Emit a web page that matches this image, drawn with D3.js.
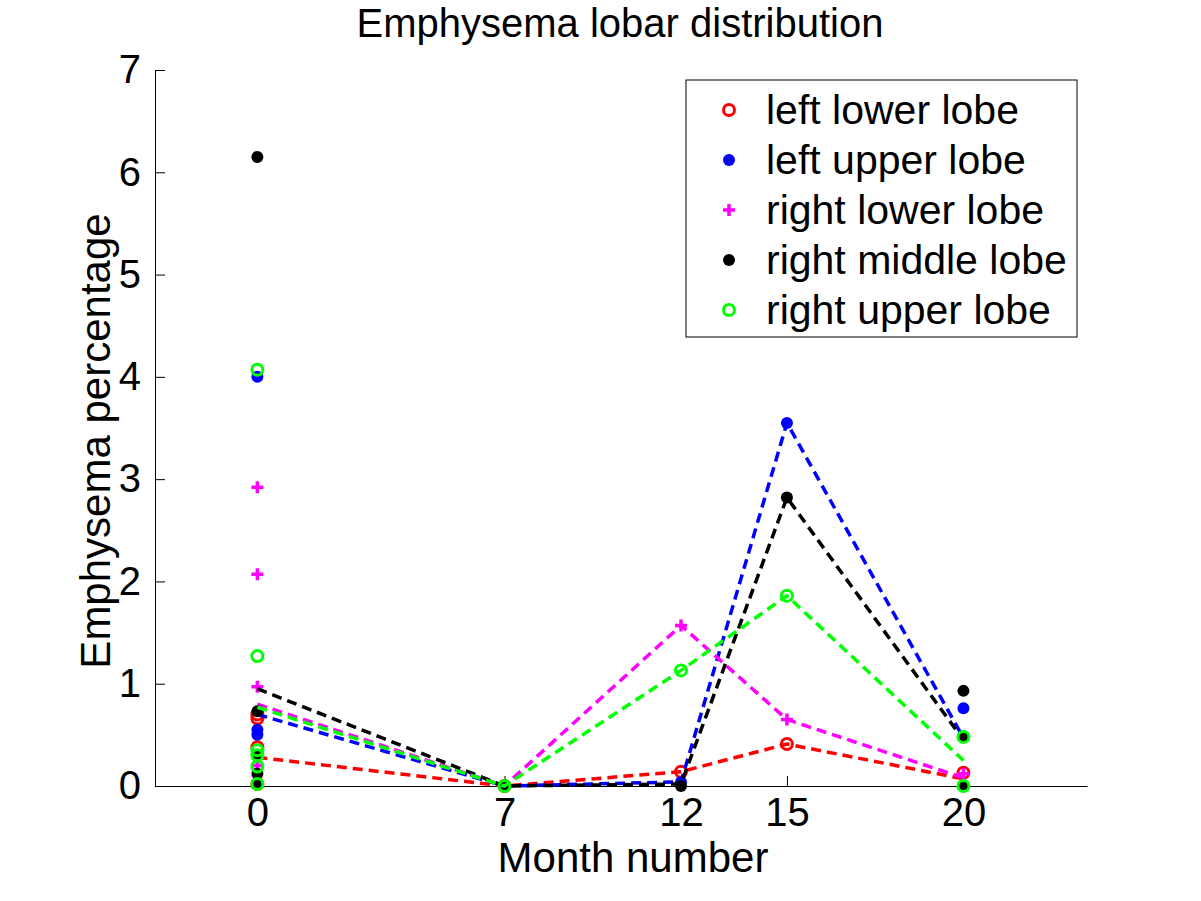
<!DOCTYPE html><html><head><script src="https://cdn.jsdelivr.net/npm/d3@7"></script>
<style>body{margin:0;background:#fff}text{font-family:"Liberation Sans",Arial,sans-serif}</style></head><body>
<svg width="1201" height="901"></svg>
<script>
const months=[0,7,12,15,20];
const names=["left lower lobe","left upper lobe","right lower lobe","right middle lobe","right upper lobe"];
const colors=["#ff0000","#0000ff","#ff00ff","#000000","#00ff00"];
const markers=["circle","dot","plus","dot","circle"];
const meanLL=[0.28,0,0.14,0.41,0.07];
const meanLU=[0.70,0,0.04,3.55,0.47];
const meanRL=[0.80,0,1.57,0.65,0.08];
const meanRM=[0.95,0,0.02,2.82,0.45];
const meanRU=[0.77,0,1.13,1.86,0.25];
const ptsLL=[[0,0.66],[0,0.70],[0,0.38],[0,0.02],[7,0],[12,0.14],[15,0.41],[20,0.13]];
const ptsLU=[[0,4.0],[0,0.55],[0,0.5],[0,0.02],[7,0],[12,0.04],[15,3.55],[20,0.76]];
const ptsRL=[[0,2.92],[0,2.07],[0,0.97],[0,0.2],[0,0.02],[7,0],[12,1.57],[15,0.65],[20,0.12]];
const ptsRM=[[0,6.15],[0,0.73],[0,0.3],[0,0.12],[0,0.02],[7,0],[12,0.0],[15,2.82],[20,0.93],[20,0.48],[20,0]];
const ptsRU=[[0,4.07],[0,1.27],[0,0.35],[0,0.3],[0,0.19],[0,0.02],[7,0],[12,1.13],[15,1.86],[20,0.48],[20,0]];
const yTicks=[0,1,2,3,4,5,6,7];
const means=[meanLL,meanLU,meanRL,meanRM,meanRU];
const pts=[ptsLL,ptsLU,ptsRL,ptsRM,ptsRU];
const svg=d3.select("svg");
const x=d3.scaleLinear().domain([-2.9,23.5]).range([155,1087]);
const y=d3.scaleLinear().domain([0,7]).range([786,70]);
svg.append("g").attr("transform","translate(0,786)").call(d3.axisBottom(x).tickValues(months).tickFormat(d3.format("d")).tickSize(-10).tickPadding(12).tickSizeOuter(0))
 .call(g=>{g.selectAll("text").style("font-size","40px").style("font-family","Liberation Sans");g.selectAll("line,path").attr("stroke","#000");});
svg.append("g").attr("transform","translate(155,0)").call(d3.axisLeft(y).tickValues(yTicks).tickFormat(d3.format("d")).tickSize(-10).tickPadding(14).tickSizeOuter(0))
 .call(g=>{g.selectAll("text").style("font-size","40px").style("font-family","Liberation Sans");g.selectAll("line,path").attr("stroke","#000");});
const line=d3.line().x((d,i)=>x(months[i])).y(d=>y(d));
function mark(g,type,c,px,py){
 if(type==="circle")g.append("circle").attr("cx",px).attr("cy",py).attr("r",5.5).attr("fill","none").attr("stroke",c).attr("stroke-width",3);
 else if(type==="dot")g.append("circle").attr("cx",px).attr("cy",py).attr("r",6).attr("fill",c);
 else g.append("path").attr("d",`M${px-6},${py}H${px+6}M${px},${py-6}V${py+6}`).attr("stroke",c).attr("stroke-width",3.5);
}
names.forEach((n,k)=>{
 const g=svg.append("g");
 g.append("path").attr("d",line(means[k])).attr("fill","none").attr("stroke",colors[k]).attr("stroke-width",3.5).attr("stroke-dasharray","10,6");
 pts[k].forEach(p=>mark(g,markers[k],colors[k],x(p[0]),y(p[1])));
});
svg.append("text").attr("x",620).attr("y",37).attr("text-anchor","middle").style("font-size","40px").text("Emphysema lobar distribution");
svg.append("text").attr("x",633).attr("y",872).attr("text-anchor","middle").style("font-size","42px").text("Month number");
svg.append("text").attr("transform","translate(110,441) rotate(-90)").attr("text-anchor","middle").style("font-size","42px").text("Emphysema percentage");
const lg=svg.append("g");
lg.append("rect").attr("x",686).attr("y",80).attr("width",391).attr("height",257).attr("fill","#fff").attr("stroke","#000");
names.forEach((n,k)=>{
 const cy=110+k*50;
 mark(lg,markers[k],colors[k],729,cy);
 lg.append("text").attr("x",766).attr("y",cy+14).style("font-size","41px").text(n);
});
</script></body></html>
